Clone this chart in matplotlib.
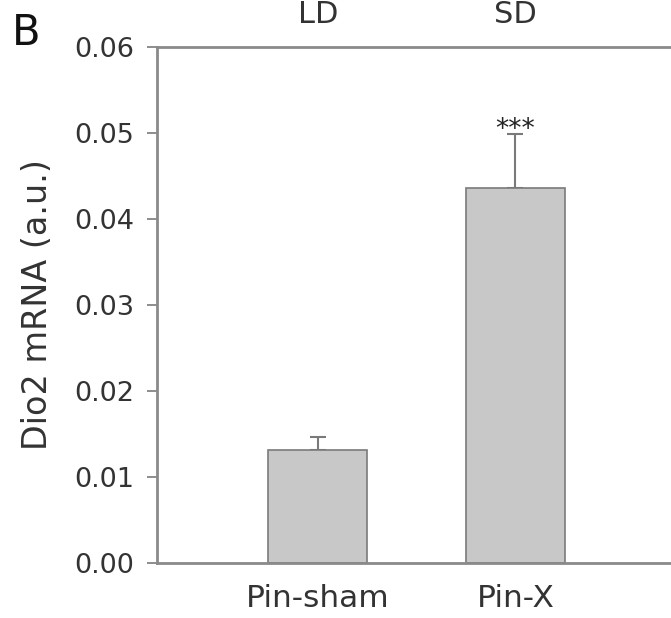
import matplotlib
matplotlib.use("Agg")
import matplotlib.pyplot as plt
import numpy as np

categories = ["Pin-sham", "Pin-X"]
values = [0.0131, 0.0436]
errors = [0.0016, 0.0063]
yticks = [0.00, 0.01, 0.02, 0.03, 0.04, 0.05, 0.06]
top_labels = ["LD", "SD"]
signif = ["", "***"]

plt.rcParams['font.family'] = ['DejaVu Sans']

fig = plt.figure(figsize=(6.71, 6.18), dpi=100)
ax = fig.add_axes([0.234, 0.089, 0.77, 0.835])

x = np.array([1, 2])
ax.bar(x, values, width=0.5, color="#c8c8c8", edgecolor="#7a7a7a", linewidth=1.2, zorder=2)
ax.errorbar(x, values, yerr=[np.zeros(2), errors], fmt="none", ecolor="#7a7a7a",
            elinewidth=1.5, capsize=6, capthick=1.5, zorder=1)
for xi, v, e, s in zip(x, values, errors, signif):
    if s:
        ax.text(xi, v + e - 0.0004, s, ha="center", va="baseline", fontsize=19, color="#222222")

ax.set_xlim(0.187, 2.80)
ax.set_ylim(0, 0.06)
ax.set_yticks(yticks)
ax.set_yticklabels([f"{t:.2f}" for t in yticks])
ax.set_xticks(x)
ax.set_xticklabels(categories)
ax.tick_params(axis="y", direction="out", length=7, width=1.2, color="#7a7a7a",
               labelsize=19.5, pad=9.5, labelcolor="#333333")
ax.tick_params(axis="x", length=0, labelsize=22.5, pad=15, labelcolor="#333333")
ax.set_ylabel("Dio2 mRNA (a.u.)", fontsize=24, color="#333333")
ax.yaxis.set_label_coords(-0.200, 0.5)

for sp in ["left", "bottom", "top"]:
    ax.spines[sp].set_color("#8a8a8a")
    ax.spines[sp].set_linewidth(2)
ax.spines["right"].set_visible(False)

for xi, lab in zip(x, top_labels):
    tx = ax.transData.transform((xi, 0))[0] / fig.bbox.width
    fig.text(tx, 0.9628, lab, ha="center", va="baseline", fontsize=22, color="#333333")
fig.text(0.017, 0.927, "B", fontsize=30, ha="left", va="baseline", color="#111111")

fig.savefig("out.png", dpi=100)
